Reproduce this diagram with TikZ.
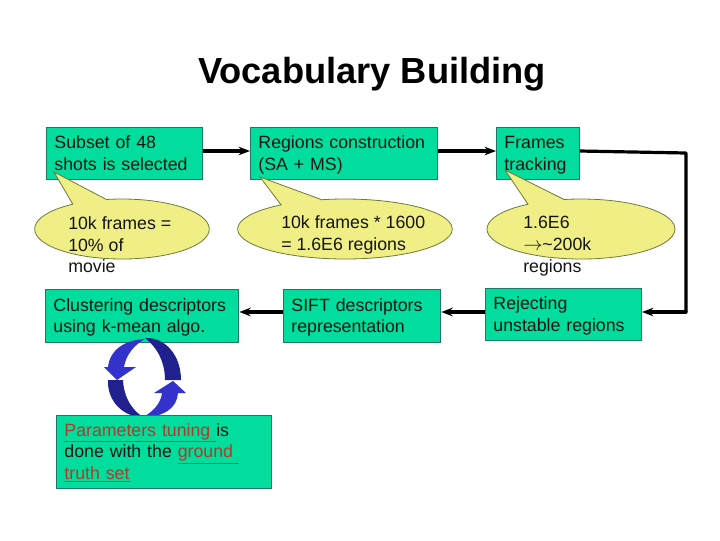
\documentclass[tikz,border=0pt]{standalone}
\usepackage{fontspec}
\setmainfont{Liberation Sans}
\usepackage{xcolor}
\usetikzlibrary{shapes.callouts,arrows.meta}

\definecolor{boxgreen}{HTML}{00DD9C}
\definecolor{boxedge}{HTML}{1B7A66}
\definecolor{notefill}{HTML}{EFEF85}
\definecolor{noteedge}{HTML}{6E7A3C}
\definecolor{loopblue}{HTML}{3333CC}
\definecolor{loopdark}{HTML}{20208F}
\definecolor{linkred}{HTML}{B23A2A}

\newcommand{\linktext}[1]{\textcolor{linkred}{\underline{#1}}}
\newcommand{\topstrut}{\rule{0pt}{13.6pt}}

\tikzset{
    stagebox/.style 2 args={draw=boxedge,fill=boxgreen,line width=0.7pt,anchor=north west,
        minimum width=#1,minimum height=#2,inner xsep=6pt,inner ysep=0pt,text width=#1-12pt,
        align=left,text=black!92,font=\fontsize{13.3}{16.3}\selectfont,
        execute at begin node=\topstrut,execute at end node=\strut},
    notebubble/.style 2 args={ellipse callout,draw=noteedge,fill=notefill,line width=0.6pt,
        minimum width=#1,minimum height=#2,inner sep=0pt,callout pointer arc=24},
    notetext/.style={anchor=west,inner sep=0pt,align=left,text=black!92,font=\fontsize{13.3}{16.3}\selectfont,
        execute at begin node=\topstrut,execute at end node=\strut},
    flowline/.style={line width=2.4pt,black},
    flowarrow/.style={line width=2.4pt,black,-{Stealth[scale=0.62]}}
}

\begin{document}
\begin{tikzpicture}[x=0.75pt,y=-0.75pt]
    \useasboundingbox (0,0) rectangle (720,540);
    % title
        \node[anchor=base,inner sep=0pt,font=\bfseries\fontsize{27.2}{32}\selectfont] (title) at (372,83){Vocabulary Building};
    % top row
        \node[stagebox={117pt}{39pt}] (subset) at (46,127){Subset of 48\\shots is selected};
        \node[stagebox={140pt}{39pt}] (regions) at (250,127){Regions construction\\(SA + MS)};
        \node[stagebox={62pt}{39pt}] (frames) at (496,127){Frames\\tracking};
    % bottom row
        \node[stagebox={117pt}{39pt}] (rejecting) at (485,288){Rejecting\\unstable regions};
        \node[stagebox={118pt}{40pt}] (sift) at (283,289){SIFT descriptors\\representation};
        \node[stagebox={145pt}{40pt}] (clustering) at (45,289){Clustering descriptors\\using k-mean algo.};
    % callouts
        \node[notebubble={131pt}{45pt},callout absolute pointer={(54,172)}] (framesnote) at (122,229){};
        \node[notetext] (framestext) at (68,248){10k frames =\\10\% of\\movie};

        \node[notebubble={161pt}{45pt},callout absolute pointer={(260,177)}] (regionsnote) at (345,229){};
        \node[notetext] (regionstext) at (281,236.5){10k frames * 1600\\= 1.6E6 regions};

        \node[notebubble={141pt}{45pt},callout absolute pointer={(505,170)}] (trackingnote) at (581,229){};
        \node[notetext] (trackingtext) at (523,247.5){1.6E6\\$\rightarrow$\char`~200k\\regions};
    % connectors
        \coordinate (rowtop) at (0,151);
        \coordinate (rowbottom) at (0,312);
        \coordinate (bendtop) at (686,153);
        \coordinate (bendbottom) at (686,312);
        \draw[flowarrow](subset.east|-rowtop)--(regions.west|-rowtop);
        \draw[flowarrow](regions.east|-rowtop)--(frames.west|-rowtop);
        \draw[flowline,line join=round](frames.east|-rowtop)--(bendtop)--(bendbottom);
        \draw[flowarrow,line cap=round](bendbottom)--(rejecting.east|-rowbottom);
        \draw[flowarrow](rejecting.west|-rowbottom)--(sift.east|-rowbottom);
        \draw[flowarrow](sift.west|-rowbottom)--(clustering.east|-rowbottom);
    % loop
        \fill[loopblue](145,339) .. controls (124,340) and (110,350) .. (108,367)--(104,367)--(117,380)--(136,367)--(124,367) .. controls (126,355) and (134,345) .. (145,339);
        \fill[loopdark](145,338) .. controls (165,337) and (181,355) .. (181,380)--(165,380) .. controls (165,362) and (157,347) .. (145,338);
        \fill[loopdark](108,380)--(123,380) .. controls (124,398) and (132,410) .. (143,417) .. controls (122,417) and (107,400) .. (108,380);
        \fill[loopblue](143,417) .. controls (164,417) and (177,408) .. (178,393)--(186,393)--(173,381)--(154,393)--(162,393) .. controls (161,403) and (153,412) .. (143,417);
    % tuning box
        \node[stagebox={161pt}{55pt}] (tuning) at (56,415){\linktext{Parameters tuning\ }is\\done with the \linktext{ground\ }\\\linktext{truth set}};
\end{tikzpicture}
\end{document}
